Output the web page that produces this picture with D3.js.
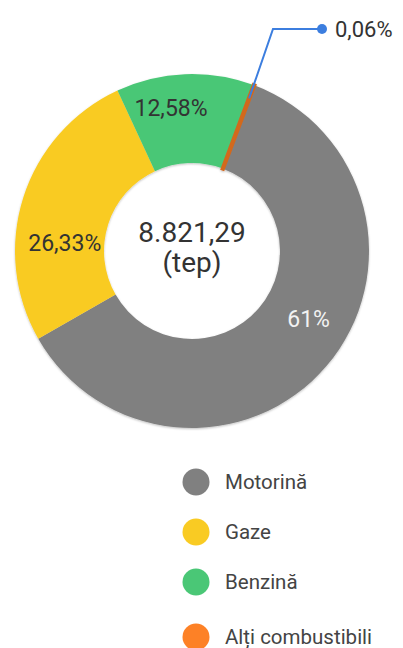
<!DOCTYPE html>
<html>
<head>
<meta charset="utf-8">
<script src="https://cdn.jsdelivr.net/npm/d3@7"></script>
<style>
  html, body { margin: 0; padding: 0; background: #fff; }
  svg { display: block; font-family: Roboto, "Noto Sans", sans-serif; }
</style>
</head>
<body>
<svg id="chart" width="403" height="648"></svg>
<script>
// Fuel consumption shares, total 8.821,29 tep
const categories = ["Motorină", "Gaze", "Benzină", "Alți combustibili"];
const shares = [61, 26.33, 12.58, 0.06];
const shareLabels = ["61%", "26,33%", "12,58%", "0,06%"];
const sliceColors = ["#808080", "#F9CB23", "#4AC776", "#D2691E"];
const legendColors = ["#808080", "#F9CB23", "#4AC776", "#FD8126"];
const labelColors = ["#f2f2f2", "#333333", "#333333", "#333333"];
const centerLines = ["8.821,29", "(tep)"];

const svg = d3.select("#chart");
const cx = 192, cy = 251;
const outerR = 177, innerR = 88;

const defs = svg.append("defs");
const shadow = defs.append("filter").attr("id", "soft")
  .attr("x", "-10%").attr("y", "-10%").attr("width", "120%").attr("height", "120%");
shadow.append("feDropShadow")
  .attr("dx", 0).attr("dy", 1).attr("stdDeviation", 1.2)
  .attr("flood-color", "#000").attr("flood-opacity", 0.25);

const startAngle = 0.36;
const pie = d3.pie().sort(null)
  .startAngle(startAngle).endAngle(startAngle + 2 * Math.PI)
  .value(d => d);
const arcs = pie(shares);

const arc = d3.arc().innerRadius(innerR).outerRadius(outerR);

const g = svg.append("g").attr("transform", `translate(${cx},${cy})`);

g.append("g").attr("filter", "url(#soft)")
  .selectAll("path")
  .data(arcs)
  .join("path")
  .attr("d", arc)
  .attr("fill", (d, i) => sliceColors[i])
  .attr("stroke", (d, i) => i === 3 ? sliceColors[i] : "none")
  .attr("stroke-width", (d, i) => i === 3 ? 4 : 0);

// In-slice percentage labels, placed in the ring a little before each slice's middle
const deg = Math.PI / 180;
const labelRadius = [135, 127.5, 144.5];
const labelShift = [-10.2, -14, -6.1];
const inside = arcs.slice(0, 3);
g.selectAll("text.pct")
  .data(inside)
  .join("text")
  .attr("class", "pct")
  .attr("transform", (d, i) => {
    const a = (d.startAngle + d.endAngle) / 2 + labelShift[i] * deg;
    const r = labelRadius[i];
    return `translate(${Math.sin(a) * r},${-Math.cos(a) * r})`;
  })
  .attr("text-anchor", "middle")
  .attr("dy", "0.36em")
  .attr("font-size", 23)
  .attr("fill", (d, i) => labelColors[i])
  .text((d, i) => shareLabels[i]);

// Callout for the thin slice
const thin = arcs[3];
const ta = (thin.startAngle + thin.endAngle) / 2;
const p0 = [Math.sin(ta) * 163, -Math.cos(ta) * 163];
const elbowY = 29 - cy;
const elbowX = 81;
const dotX = 130;
g.append("polyline")
  .attr("points", [p0, [elbowX, elbowY], [dotX, elbowY]].map(p => p.join(",")).join(" "))
  .attr("fill", "none")
  .attr("stroke", "#3C7EDF")
  .attr("stroke-width", 2);
g.append("circle")
  .attr("cx", dotX).attr("cy", elbowY).attr("r", 5)
  .attr("fill", "#3C7EDF");
g.append("text")
  .attr("x", dotX + 13).attr("y", elbowY)
  .attr("dy", "0.36em")
  .attr("font-size", 22)
  .attr("fill", "#333")
  .text(shareLabels[3]);

// Total in the hole
g.selectAll("text.center")
  .data(centerLines)
  .join("text")
  .attr("class", "center")
  .attr("text-anchor", "middle")
  .attr("y", (d, i) => -9 + i * 30)
  .attr("font-size", 28)
  .attr("fill", "#333")
  .text(d => d);

// Legend
const legY = i => 482 + i * 50 + (i === 3 ? 5 : 0);
const legend = svg.append("g");
categories.forEach((c, i) => {
  legend.append("circle")
    .attr("cx", 196).attr("cy", legY(i)).attr("r", 13.5)
    .attr("fill", legendColors[i]);
  legend.append("text")
    .attr("x", 225).attr("y", legY(i))
    .attr("dy", "0.36em")
    .attr("font-size", 20.5)
    .attr("fill", "#444")
    .text(c);
});
</script>
</body>
</html>
